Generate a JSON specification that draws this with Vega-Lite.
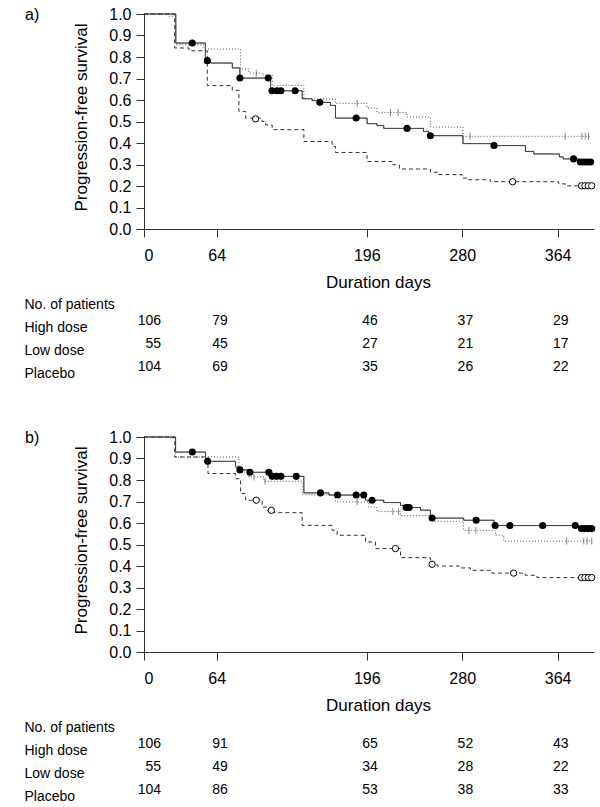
{
"$schema": "https://vega.github.io/schema/vega-lite/v6.json",
"padding": {"left": 24, "top": 6, "right": 5, "bottom": 5},
"background": "white",
"config": {
  "font": "Liberation Sans",
  "view": {"stroke": null},
  "axis": {"domainColor": "#333", "tickColor": "#333", "labelColor": "#000", "titleColor": "#000", "labelFontSize": 16, "titleFontSize": 17, "titleFontWeight": "normal", "grid": false, "tickSize": 8},
  "title": {"fontWeight": "normal", "fontSize": 16, "color": "#000"}
},
"spacing": 20,
"bounds": "flush",
"datasets": {
  "curves": [
    {"p":"a","g":"High dose","day":0,"S":1},{"p":"a","g":"High dose","day":28,"S":0.865},{"p":"a","g":"High dose","day":54,"S":0.783},{"p":"a","g":"High dose","day":58.6,"S":0.772},{"p":"a","g":"High dose","day":77.7,"S":0.749},{"p":"a","g":"High dose","day":84.4,"S":0.702},{"p":"a","g":"High dose","day":111.4,"S":0.643},{"p":"a","g":"High dose","day":139.2,"S":0.606},{"p":"a","g":"High dose","day":148,"S":0.597},{"p":"a","g":"High dose","day":153.9,"S":0.589},{"p":"a","g":"High dose","day":164,"S":0.575},{"p":"a","g":"High dose","day":168.5,"S":0.516},{"p":"a","g":"High dose","day":196.3,"S":0.49},{"p":"a","g":"High dose","day":205,"S":0.481},{"p":"a","g":"High dose","day":211,"S":0.468},{"p":"a","g":"High dose","day":246,"S":0.454},{"p":"a","g":"High dose","day":250.6,"S":0.434},{"p":"a","g":"High dose","day":280.7,"S":0.397},{"p":"a","g":"High dose","day":306,"S":0.388},{"p":"a","g":"High dose","day":335.6,"S":0.361},{"p":"a","g":"High dose","day":343,"S":0.349},{"p":"a","g":"High dose","day":365.5,"S":0.335},{"p":"a","g":"High dose","day":369,"S":0.326},{"p":"a","g":"High dose","day":382.4,"S":0.312},{"p":"a","g":"High dose","day":394,"S":0.312},
    {"p":"a","g":"Low dose","day":0,"S":1},{"p":"a","g":"Low dose","day":22,"S":0.99},{"p":"a","g":"Low dose","day":28,"S":0.857},{"p":"a","g":"Low dose","day":52.8,"S":0.837},{"p":"a","g":"Low dose","day":85,"S":0.744},{"p":"a","g":"Low dose","day":92.3,"S":0.725},{"p":"a","g":"Low dose","day":104,"S":0.716},{"p":"a","g":"Low dose","day":112.8,"S":0.668},{"p":"a","g":"Low dose","day":140.7,"S":0.605},{"p":"a","g":"Low dose","day":168.5,"S":0.584},{"p":"a","g":"Low dose","day":196.3,"S":0.563},{"p":"a","g":"Low dose","day":205,"S":0.542},{"p":"a","g":"Low dose","day":231.5,"S":0.521},{"p":"a","g":"Low dose","day":252,"S":0.474},{"p":"a","g":"Low dose","day":280.7,"S":0.431},{"p":"a","g":"Low dose","day":393,"S":0.431},
    {"p":"a","g":"Placebo","day":0,"S":1},{"p":"a","g":"Placebo","day":27,"S":0.842},{"p":"a","g":"Placebo","day":39.6,"S":0.829},{"p":"a","g":"Placebo","day":55.7,"S":0.667},{"p":"a","g":"Placebo","day":77.7,"S":0.645},{"p":"a","g":"Placebo","day":83.5,"S":0.547},{"p":"a","g":"Placebo","day":89.4,"S":0.516},{"p":"a","g":"Placebo","day":104,"S":0.5},{"p":"a","g":"Placebo","day":107,"S":0.484},{"p":"a","g":"Placebo","day":112.8,"S":0.462},{"p":"a","g":"Placebo","day":140.7,"S":0.407},{"p":"a","g":"Placebo","day":165.6,"S":0.384},{"p":"a","g":"Placebo","day":168.5,"S":0.356},{"p":"a","g":"Placebo","day":196.3,"S":0.314},{"p":"a","g":"Placebo","day":218.3,"S":0.299},{"p":"a","g":"Placebo","day":224.8,"S":0.279},{"p":"a","g":"Placebo","day":252,"S":0.264},{"p":"a","g":"Placebo","day":257.9,"S":0.253},{"p":"a","g":"Placebo","day":279.9,"S":0.237},{"p":"a","g":"Placebo","day":285.7,"S":0.229},{"p":"a","g":"Placebo","day":304.8,"S":0.22},{"p":"a","g":"Placebo","day":364.9,"S":0.21},{"p":"a","g":"Placebo","day":370.7,"S":0.201},{"p":"a","g":"Placebo","day":394,"S":0.201},
    {"p":"b","g":"High dose","day":0,"S":1},{"p":"b","g":"High dose","day":27.8,"S":0.93},{"p":"b","g":"High dose","day":54.2,"S":0.887},{"p":"b","g":"High dose","day":80.6,"S":0.86},{"p":"b","g":"High dose","day":84.4,"S":0.847},{"p":"b","g":"High dose","day":92.3,"S":0.836},{"p":"b","g":"High dose","day":111.4,"S":0.817},{"p":"b","g":"High dose","day":140.7,"S":0.74},{"p":"b","g":"High dose","day":162.7,"S":0.73},{"p":"b","g":"High dose","day":194.9,"S":0.706},{"p":"b","g":"High dose","day":211,"S":0.695},{"p":"b","g":"High dose","day":225.7,"S":0.682},{"p":"b","g":"High dose","day":228.6,"S":0.672},{"p":"b","g":"High dose","day":243.3,"S":0.66},{"p":"b","g":"High dose","day":252,"S":0.623},{"p":"b","g":"High dose","day":281.3,"S":0.613},{"p":"b","g":"High dose","day":308,"S":0.588},{"p":"b","g":"High dose","day":382.4,"S":0.574},{"p":"b","g":"High dose","day":394,"S":0.574},
    {"p":"b","g":"Low dose","day":0,"S":1},{"p":"b","g":"Low dose","day":22,"S":0.995},{"p":"b","g":"Low dose","day":27.8,"S":0.907},{"p":"b","g":"Low dose","day":83.5,"S":0.837},{"p":"b","g":"Low dose","day":92.3,"S":0.814},{"p":"b","g":"Low dose","day":105.5,"S":0.794},{"p":"b","g":"Low dose","day":139.2,"S":0.732},{"p":"b","g":"Low dose","day":168.5,"S":0.698},{"p":"b","g":"Low dose","day":197.8,"S":0.674},{"p":"b","g":"Low dose","day":205,"S":0.653},{"p":"b","g":"Low dose","day":225.7,"S":0.634},{"p":"b","g":"Low dose","day":253.5,"S":0.608},{"p":"b","g":"Low dose","day":281.3,"S":0.566},{"p":"b","g":"Low dose","day":309.2,"S":0.543},{"p":"b","g":"Low dose","day":316.5,"S":0.516},{"p":"b","g":"Low dose","day":394,"S":0.516},
    {"p":"b","g":"Placebo","day":0,"S":1},{"p":"b","g":"Placebo","day":27,"S":0.907},{"p":"b","g":"Placebo","day":56.3,"S":0.83},{"p":"b","g":"Placebo","day":80.6,"S":0.806},{"p":"b","g":"Placebo","day":85,"S":0.737},{"p":"b","g":"Placebo","day":89.4,"S":0.706},{"p":"b","g":"Placebo","day":104,"S":0.674},{"p":"b","g":"Placebo","day":108.4,"S":0.659},{"p":"b","g":"Placebo","day":114.3,"S":0.648},{"p":"b","g":"Placebo","day":139.2,"S":0.589},{"p":"b","g":"Placebo","day":165.6,"S":0.566},{"p":"b","g":"Placebo","day":170,"S":0.543},{"p":"b","g":"Placebo","day":194.9,"S":0.512},{"p":"b","g":"Placebo","day":203.7,"S":0.481},{"p":"b","g":"Placebo","day":225.7,"S":0.439},{"p":"b","g":"Placebo","day":252,"S":0.428},{"p":"b","g":"Placebo","day":253.5,"S":0.408},{"p":"b","g":"Placebo","day":258,"S":0.4},{"p":"b","g":"Placebo","day":277.4,"S":0.391},{"p":"b","g":"Placebo","day":287.2,"S":0.38},{"p":"b","g":"Placebo","day":306.2,"S":0.367},{"p":"b","g":"Placebo","day":335.6,"S":0.357},{"p":"b","g":"Placebo","day":345.8,"S":0.346},{"p":"b","g":"Placebo","day":394,"S":0.346}
  ],
  "censor": [
    {"p":"a","g":"High dose","day":42.5,"S":0.865},{"p":"a","g":"High dose","day":55.7,"S":0.783},{"p":"a","g":"High dose","day":84.4,"S":0.702},{"p":"a","g":"High dose","day":109.3,"S":0.702},{"p":"a","g":"High dose","day":112.6,"S":0.643},{"p":"a","g":"High dose","day":117,"S":0.643},{"p":"a","g":"High dose","day":120.5,"S":0.643},{"p":"a","g":"High dose","day":133,"S":0.643},{"p":"a","g":"High dose","day":154.7,"S":0.589},{"p":"a","g":"High dose","day":186.7,"S":0.516},{"p":"a","g":"High dose","day":231.5,"S":0.468},{"p":"a","g":"High dose","day":252,"S":0.434},{"p":"a","g":"High dose","day":308,"S":0.388},{"p":"a","g":"High dose","day":378,"S":0.326},{"p":"a","g":"High dose","day":384,"S":0.312},{"p":"a","g":"High dose","day":387,"S":0.312},{"p":"a","g":"High dose","day":390,"S":0.312},{"p":"a","g":"High dose","day":393,"S":0.312},
    {"p":"a","g":"Low dose","day":98.8,"S":0.725},{"p":"a","g":"Low dose","day":187.6,"S":0.584},{"p":"a","g":"Low dose","day":216.9,"S":0.542},{"p":"a","g":"Low dose","day":223.6,"S":0.542},{"p":"a","g":"Low dose","day":287,"S":0.431},{"p":"a","g":"Low dose","day":370.7,"S":0.431},{"p":"a","g":"Low dose","day":385.4,"S":0.431},{"p":"a","g":"Low dose","day":388.3,"S":0.431},{"p":"a","g":"Low dose","day":391.2,"S":0.431},
    {"p":"a","g":"Placebo","day":98.2,"S":0.512},{"p":"a","g":"Placebo","day":324.4,"S":0.22},{"p":"a","g":"Placebo","day":385,"S":0.201},{"p":"a","g":"Placebo","day":388,"S":0.201},{"p":"a","g":"Placebo","day":391,"S":0.201},{"p":"a","g":"Placebo","day":394,"S":0.201},
    {"p":"b","g":"High dose","day":42.5,"S":0.93},{"p":"b","g":"High dose","day":56,"S":0.887},{"p":"b","g":"High dose","day":84.4,"S":0.847},{"p":"b","g":"High dose","day":93.2,"S":0.836},{"p":"b","g":"High dose","day":109.9,"S":0.836},{"p":"b","g":"High dose","day":112.8,"S":0.817},{"p":"b","g":"High dose","day":116.7,"S":0.817},{"p":"b","g":"High dose","day":120.5,"S":0.817},{"p":"b","g":"High dose","day":134,"S":0.817},{"p":"b","g":"High dose","day":155.3,"S":0.74},{"p":"b","g":"High dose","day":170.3,"S":0.73},{"p":"b","g":"High dose","day":186.7,"S":0.73},{"p":"b","g":"High dose","day":193.4,"S":0.73},{"p":"b","g":"High dose","day":200.7,"S":0.706},{"p":"b","g":"High dose","day":230.7,"S":0.672},{"p":"b","g":"High dose","day":233.4,"S":0.672},{"p":"b","g":"High dose","day":253.5,"S":0.623},{"p":"b","g":"High dose","day":292.3,"S":0.613},{"p":"b","g":"High dose","day":309,"S":0.588},{"p":"b","g":"High dose","day":322,"S":0.588},{"p":"b","g":"High dose","day":350.8,"S":0.588},{"p":"b","g":"High dose","day":379.5,"S":0.588},{"p":"b","g":"High dose","day":385,"S":0.574},{"p":"b","g":"High dose","day":388,"S":0.574},{"p":"b","g":"High dose","day":391,"S":0.574},{"p":"b","g":"High dose","day":394,"S":0.574},
    {"p":"b","g":"Low dose","day":96.7,"S":0.814},{"p":"b","g":"Low dose","day":106.5,"S":0.794},{"p":"b","g":"Low dose","day":187.6,"S":0.698},{"p":"b","g":"Low dose","day":219,"S":0.653},{"p":"b","g":"Low dose","day":224,"S":0.653},{"p":"b","g":"Low dose","day":286,"S":0.566},{"p":"b","g":"Low dose","day":292,"S":0.566},{"p":"b","g":"Low dose","day":372,"S":0.516},{"p":"b","g":"Low dose","day":387,"S":0.516},{"p":"b","g":"Low dose","day":390,"S":0.516},{"p":"b","g":"Low dose","day":394,"S":0.516},
    {"p":"b","g":"Placebo","day":98.8,"S":0.706},{"p":"b","g":"Placebo","day":112,"S":0.659},{"p":"b","g":"Placebo","day":221.3,"S":0.481},{"p":"b","g":"Placebo","day":253.5,"S":0.408},{"p":"b","g":"Placebo","day":325.3,"S":0.367},{"p":"b","g":"Placebo","day":385,"S":0.346},{"p":"b","g":"Placebo","day":388,"S":0.346},{"p":"b","g":"Placebo","day":391,"S":0.346},{"p":"b","g":"Placebo","day":394,"S":0.346}
  ],
  "risk": [
    {"p":"a","g":"High dose","day":0,"n":106},{"p":"a","g":"High dose","day":64,"n":79},{"p":"a","g":"High dose","day":196,"n":46},{"p":"a","g":"High dose","day":280,"n":37},{"p":"a","g":"High dose","day":364,"n":29},
    {"p":"a","g":"Low dose","day":0,"n":55},{"p":"a","g":"Low dose","day":64,"n":45},{"p":"a","g":"Low dose","day":196,"n":27},{"p":"a","g":"Low dose","day":280,"n":21},{"p":"a","g":"Low dose","day":364,"n":17},
    {"p":"a","g":"Placebo","day":0,"n":104},{"p":"a","g":"Placebo","day":64,"n":69},{"p":"a","g":"Placebo","day":196,"n":35},{"p":"a","g":"Placebo","day":280,"n":26},{"p":"a","g":"Placebo","day":364,"n":22},
    {"p":"b","g":"High dose","day":0,"n":106},{"p":"b","g":"High dose","day":64,"n":91},{"p":"b","g":"High dose","day":196,"n":65},{"p":"b","g":"High dose","day":280,"n":52},{"p":"b","g":"High dose","day":364,"n":43},
    {"p":"b","g":"Low dose","day":0,"n":55},{"p":"b","g":"Low dose","day":64,"n":49},{"p":"b","g":"Low dose","day":196,"n":34},{"p":"b","g":"Low dose","day":280,"n":28},{"p":"b","g":"Low dose","day":364,"n":22},
    {"p":"b","g":"Placebo","day":0,"n":104},{"p":"b","g":"Placebo","day":64,"n":86},{"p":"b","g":"Placebo","day":196,"n":53},{"p":"b","g":"Placebo","day":280,"n":38},{"p":"b","g":"Placebo","day":364,"n":33}
  ]
},
"vconcat": [
  {
    "width": 450, "height": 215,
    "title": {"text": "a)", "anchor": "start", "frame": "group", "align": "left", "dx": -119, "dy": 25, "offset": 0, "baseline": "middle", "fontSize": 16},
    "encoding": {
      "x": {"field": "day", "type": "quantitative", "scale": {"domain": [0, 396], "nice": false}, "axis": {"values": [0, 64, 196, 280, 364], "title": "Duration days", "labelPadding": 10, "titlePadding": 11, "titleX": 234}},
      "y": {"field": "S", "type": "quantitative", "scale": {"domain": [0, 1], "nice": false}, "axis": {"values": [0, 0.1, 0.2, 0.3, 0.4, 0.5, 0.6, 0.7, 0.8, 0.9, 1], "format": ".1f", "title": "Progression-free survival", "labelPadding": 5, "titlePadding": 18, "titleY": 103}}
    },
    "layer": [
      {"data": {"name": "curves"}, "transform": [{"filter": "datum.p == 'a'"}], "mark": {"type": "line", "interpolate": "step-after", "strokeWidth": 1},
       "encoding": {"color": {"field": "g", "type": "nominal", "scale": {"domain": ["High dose", "Low dose", "Placebo"], "range": ["#000000", "#555555", "#333333"]}, "legend": null},
                    "strokeDash": {"field": "g", "type": "nominal", "scale": {"domain": ["High dose", "Low dose", "Placebo"], "range": [[1, 0], [1, 2], [4, 3]]}, "legend": null}}},
      {"data": {"name": "censor"}, "transform": [{"filter": "datum.p == 'a' && datum.g == 'High dose'"}], "mark": {"type": "point", "shape": "circle", "filled": true, "size": 50, "color": "#000", "opacity": 1}, "encoding": {}},
      {"data": {"name": "censor"}, "transform": [{"filter": "datum.p == 'a' && datum.g == 'Placebo'"}], "mark": {"type": "point", "shape": "circle", "filled": false, "size": 40, "color": "#000", "strokeWidth": 1, "fill": "white", "fillOpacity": 1, "opacity": 1}, "encoding": {}},
      {"data": {"name": "censor"}, "transform": [{"filter": "datum.p == 'a' && datum.g == 'Low dose'"}], "mark": {"type": "tick", "orient": "vertical", "size": 7, "thickness": 1, "color": "#555"}, "encoding": {}}
    ]
  },
  {
    "width": 450, "height": 168,
    "data": {"name": "risk"},
    "transform": [{"filter": "datum.p == 'a'"}],
    "encoding": {
      "x": {"field": "day", "type": "quantitative", "scale": {"domain": [0, 396], "nice": false}, "axis": null},
      "y": {"field": "g", "type": "nominal", "scale": {"type": "point", "padding": 0, "domain": ["No. of patients", "High dose", "Low dose", "Placebo"], "range": [48.7, 117.7]}, "axis": {"title": null, "domain": false, "ticks": false, "tickSize": 0, "labelAlign": "left", "labelPadding": 120, "labelOffset": 7, "labelFontSize": 14, "labelBaseline": "middle"}},
      "text": {"field": "n", "type": "quantitative"}
    },
    "layer": [
      {"transform": [{"filter": "datum.day > 0"}], "mark": {"type": "text", "align": "right", "baseline": "middle", "dx": 11, "fontSize": 14, "color": "#000"}},
      {"transform": [{"filter": "datum.day == 0"}], "mark": {"type": "text", "align": "right", "baseline": "middle", "dx": 17, "fontSize": 14, "color": "#000"}}
    ]
  },
  {
    "width": 450, "height": 215,
    "title": {"text": "b)", "anchor": "start", "frame": "group", "align": "left", "dx": -119, "dy": 25, "offset": 0, "baseline": "middle", "fontSize": 16},
    "encoding": {
      "x": {"field": "day", "type": "quantitative", "scale": {"domain": [0, 396], "nice": false}, "axis": {"values": [0, 64, 196, 280, 364], "title": "Duration days", "labelPadding": 10, "titlePadding": 11, "titleX": 234}},
      "y": {"field": "S", "type": "quantitative", "scale": {"domain": [0, 1], "nice": false}, "axis": {"values": [0, 0.1, 0.2, 0.3, 0.4, 0.5, 0.6, 0.7, 0.8, 0.9, 1], "format": ".1f", "title": "Progression-free survival", "labelPadding": 5, "titlePadding": 18, "titleY": 103}}
    },
    "layer": [
      {"data": {"name": "curves"}, "transform": [{"filter": "datum.p == 'b'"}], "mark": {"type": "line", "interpolate": "step-after", "strokeWidth": 1},
       "encoding": {"color": {"field": "g", "type": "nominal", "scale": {"domain": ["High dose", "Low dose", "Placebo"], "range": ["#000000", "#555555", "#333333"]}, "legend": null},
                    "strokeDash": {"field": "g", "type": "nominal", "scale": {"domain": ["High dose", "Low dose", "Placebo"], "range": [[1, 0], [1, 2], [4, 3]]}, "legend": null}}},
      {"data": {"name": "censor"}, "transform": [{"filter": "datum.p == 'b' && datum.g == 'High dose'"}], "mark": {"type": "point", "shape": "circle", "filled": true, "size": 50, "color": "#000", "opacity": 1}, "encoding": {}},
      {"data": {"name": "censor"}, "transform": [{"filter": "datum.p == 'b' && datum.g == 'Placebo'"}], "mark": {"type": "point", "shape": "circle", "filled": false, "size": 40, "color": "#000", "strokeWidth": 1, "fill": "white", "fillOpacity": 1, "opacity": 1}, "encoding": {}},
      {"data": {"name": "censor"}, "transform": [{"filter": "datum.p == 'b' && datum.g == 'Low dose'"}], "mark": {"type": "tick", "orient": "vertical", "size": 7, "thickness": 1, "color": "#555"}, "encoding": {}}
    ]
  },
  {
    "width": 450, "height": 168,
    "data": {"name": "risk"},
    "transform": [{"filter": "datum.p == 'b'"}],
    "encoding": {
      "x": {"field": "day", "type": "quantitative", "scale": {"domain": [0, 396], "nice": false}, "axis": null},
      "y": {"field": "g", "type": "nominal", "scale": {"type": "point", "padding": 0, "domain": ["No. of patients", "High dose", "Low dose", "Placebo"], "range": [48.7, 117.7]}, "axis": {"title": null, "domain": false, "ticks": false, "tickSize": 0, "labelAlign": "left", "labelPadding": 120, "labelOffset": 7, "labelFontSize": 14, "labelBaseline": "middle"}},
      "text": {"field": "n", "type": "quantitative"}
    },
    "layer": [
      {"transform": [{"filter": "datum.day > 0"}], "mark": {"type": "text", "align": "right", "baseline": "middle", "dx": 11, "fontSize": 14, "color": "#000"}},
      {"transform": [{"filter": "datum.day == 0"}], "mark": {"type": "text", "align": "right", "baseline": "middle", "dx": 17, "fontSize": 14, "color": "#000"}}
    ]
  }
]
}
